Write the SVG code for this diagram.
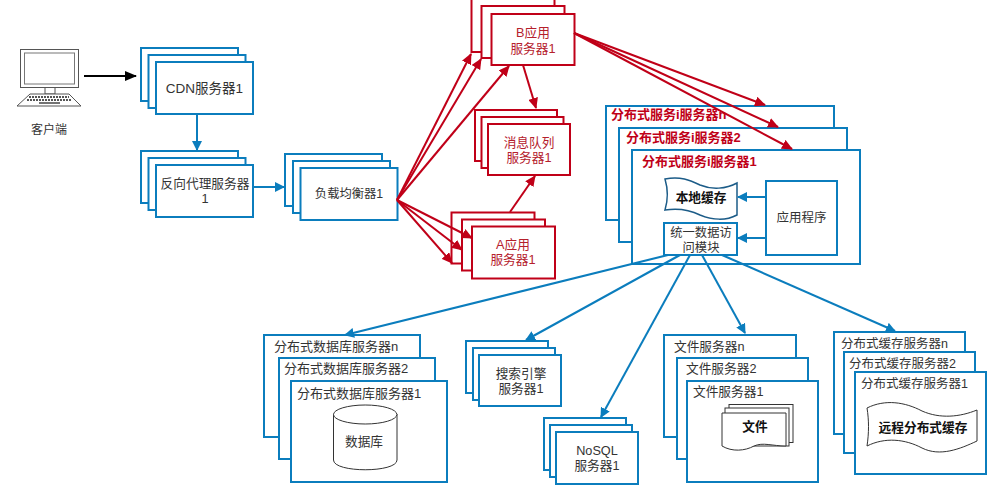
<svg xmlns="http://www.w3.org/2000/svg" width="1007" height="496" viewBox="0 0 1007 496">
<defs>
<marker id="ab" markerUnits="userSpaceOnUse" markerWidth="10" markerHeight="10" refX="9" refY="5" orient="auto"><path d="M0 0L10 5L0 10Z" fill="#0b7dbd"/></marker>
<marker id="ar" markerUnits="userSpaceOnUse" markerWidth="11" markerHeight="10" refX="10" refY="5" orient="auto"><path d="M0 0L11 5L0 10Z" fill="#c00018"/></marker>
<marker id="ak" markerUnits="userSpaceOnUse" markerWidth="12" markerHeight="10" refX="11" refY="5" orient="auto"><path d="M0 0L12 5L0 10Z" fill="#000"/></marker>
</defs>
<style>
text{font-family:"Liberation Sans","Noto Sans CJK SC",sans-serif;font-size:12.700px;fill:#333;text-anchor:middle}
.b{fill:#fff;stroke:#0b7dbd;stroke-width:2}
.r{fill:#fff;stroke:#c00018;stroke-width:2}
.rt{fill:#b5202c}
.rh{fill:#c00018;font-weight:700;font-size:13px;text-anchor:start}
.l{text-anchor:start}
.k{fill:#111;font-weight:700}
.sh{fill:#fff;stroke:#333;stroke-width:1}
.wv{fill:#fff;stroke:#1c5c88;stroke-width:1.500}
.cb{fill:none;stroke:#0b7dbd;stroke-width:2;marker-end:url(#ab)}
.cr{fill:none;stroke:#c00018;stroke-width:2;marker-end:url(#ar)}
</style>
<rect width="1007" height="496" fill="#fff"/>

<g id="client">
<rect x="20.500" y="49.500" width="58" height="38" fill="#fff" stroke="#555"/>
<rect x="24.500" y="53" width="50" height="31" fill="#fff" stroke="#777"/>
<path d="M45 88V94H55V88" fill="none" stroke="#555"/>
<path d="M17 106L30 94H69L81 106Z" fill="#fff" stroke="#555"/>
<path d="M29 97H69M27 100H72" stroke="#555" stroke-width="2" stroke-dasharray="2 1" fill="none"/>
<path d="M39 103H60" stroke="#444" stroke-width="1.500"/>
<text x="49" y="134" style="font-size:12px">客户端</text>
</g>

<g id="cdn">
<rect class="b" x="141" y="48" width="97" height="53"/><rect class="b" x="148.500" y="55" width="97" height="53"/><rect class="b" x="156" y="62" width="97" height="52"/>
<text x="204.500" y="93" style="font-size:13.500px">CDN服务器1</text>
</g>
<g id="proxy">
<rect class="b" x="141" y="151" width="97" height="52"/><rect class="b" x="148.500" y="158" width="97" height="52"/><rect class="b" x="156" y="165" width="97" height="52"/>
<text x="205" y="188"><tspan x="205">反向代理服务器</tspan><tspan x="205" dy="15">1</tspan></text>
</g>
<g id="lb">
<rect class="b" x="285" y="154" width="97" height="52"/><rect class="b" x="293" y="161" width="97" height="52"/><rect class="b" x="300.500" y="168" width="97" height="52"/>
<text x="349" y="198" style="font-size:12.300px">负载均衡器1</text>
</g>

<g id="app-b">
<rect class="r" x="471.500" y="-4" width="83" height="56"/><rect class="r" x="481.500" y="6" width="83" height="52"/><rect class="r" x="491.500" y="14" width="83" height="51"/>
<text class="rt" y="37"><tspan x="533">B应用</tspan><tspan x="533" dy="16">服务器1</tspan></text>
</g>
<g id="mq">
<rect class="r" x="475" y="110" width="82" height="51"/><rect class="r" x="481.500" y="117" width="82" height="51"/><rect class="r" x="488" y="124" width="82" height="51"/>
<text class="rt" y="147"><tspan x="529">消息队列</tspan><tspan x="529" dy="15">服务器1</tspan></text>
</g>
<g id="app-a">
<rect class="r" x="451.500" y="212.500" width="83" height="51"/><rect class="r" x="462" y="219.500" width="83" height="51"/><rect class="r" x="472" y="226.500" width="83" height="52"/>
<text class="rt" y="249"><tspan x="513">A应用</tspan><tspan x="513" dy="15">服务器1</tspan></text>
</g>

<g id="service">
<rect class="b" x="606" y="106" width="228" height="114"/>
<text class="rh" x="611" y="119">分布式服务i服务器n</text>
<rect class="b" x="619" y="128" width="228" height="114"/>
<text class="rh" x="626" y="142">分布式服务i服务器2</text>
<rect class="b" x="632" y="150" width="228" height="114"/>
<text class="rh" x="642" y="166">分布式服务i服务器1</text>
<path class="wv" d="M665 179C680 176 690 180 700 185C712 190 726 189 737 183V215C726 221 712 220 700 215C690 210 678 208 665 210C668 200 668 189 665 179Z"/>
<text class="k" x="701" y="202">本地缓存</text>
<rect class="b" x="766" y="181" width="71" height="74"/>
<text x="801.500" y="222" style="font-size:12.500px">应用程序</text>
<rect class="b" x="664" y="223" width="73" height="32"/>
<text y="237" style="font-size:12.300px"><tspan x="701">统一数据访</tspan><tspan x="701" dy="15">问模块</tspan></text>
</g>

<g id="db">
<rect class="b" x="264" y="335" width="156" height="102"/>
<text class="l" x="274" y="351" style="font-size:13px">分布式数据库服务器n</text>
<rect class="b" x="279" y="358" width="156" height="101"/>
<text class="l" x="284" y="373" style="font-size:13px">分布式数据库服务器2</text>
<rect class="b" x="291" y="381" width="156" height="101"/>
<text class="l" x="297" y="398" style="font-size:13px">分布式数据库服务器1</text>
<path class="sh" d="M333.500 414V460C333.500 473 397 473 397 460V414"/>
<ellipse class="sh" cx="365.200" cy="414.500" rx="31.700" ry="9.500"/>
<text x="364" y="446">数据库</text>
</g>
<g id="search">
<rect class="b" x="466" y="341" width="82" height="52"/><rect class="b" x="473" y="348" width="82" height="52"/><rect class="b" x="479" y="355" width="82" height="51"/>
<text y="378"><tspan x="521">搜索引擎</tspan><tspan x="521" dy="15">服务器1</tspan></text>
</g>
<g id="nosql">
<rect class="b" x="544" y="418" width="82" height="52"/><rect class="b" x="550" y="425" width="82" height="52"/><rect class="b" x="556" y="432" width="82" height="52"/>
<text y="455"><tspan x="597">NoSQL</tspan><tspan x="597" dy="15">服务器1</tspan></text>
</g>
<g id="files">
<rect class="b" x="664" y="335" width="132" height="102"/>
<text class="l" x="674" y="351">文件服务器n</text>
<rect class="b" x="677" y="358" width="131" height="101"/>
<text class="l" x="686" y="373">文件服务器2</text>
<rect class="b" x="687" y="381" width="131" height="101"/>
<text class="l" x="693" y="396">文件服务器1</text>
<rect class="sh" x="729" y="404.500" width="64" height="38"/>
<rect class="sh" x="725" y="408" width="64" height="38"/>
<path class="sh" d="M722 413H786V446C772 446 763 442 754 446C745 451 732 452 722 446Z"/>
<text class="k" x="755" y="431">文件</text>
</g>
<g id="cache">
<rect class="b" x="834" y="332" width="131" height="102"/>
<text class="l" x="841" y="348" style="font-size:12.500px">分布式缓存服务器n</text>
<rect class="b" x="844" y="352" width="131" height="101"/>
<text class="l" x="849" y="368" style="font-size:12.500px">分布式缓存服务器2</text>
<rect class="b" x="855" y="372" width="131" height="102"/>
<text class="l" x="861" y="388" style="font-size:12.500px">分布式缓存服务器1</text>
<path class="sh" d="M867 408C885 399 905 402 922 411C940 419 960 417 977 410V441C960 449 940 457 922 448C905 439 885 437 867 446C869 433 869 420 867 408Z"/>
<text class="k" x="923" y="432">远程分布式缓存</text>
</g>

<g id="connectors">
<path d="M84 76H136" fill="none" stroke="#000" stroke-width="2" marker-end="url(#ak)"/>
<path class="cb" d="M197 114V150"/>
<path class="cb" d="M253 187H284"/>
<path class="cr" d="M397 200L471 54"/>
<path class="cr" d="M397 200L481 59"/>
<path class="cr" d="M397 200L509 66"/>
<path class="cr" d="M397 200L472 238"/>
<path class="cr" d="M397 200L462 250"/>
<path class="cr" d="M397 200L452 263"/>
<path class="cr" d="M523 65L536 108"/>
<path class="cr" d="M510 212L535 176"/>
<path class="cr" d="M574 33L765 105"/>
<path class="cr" d="M574 33L778 127"/>
<path class="cr" d="M574 33L792 149"/>
<path class="cb" d="M766 197H738"/>
<path class="cb" d="M766 238H738"/>
<path class="cb" d="M668 255L345 335"/>
<path class="cb" d="M680 255L526 340"/>
<path class="cb" d="M690 255L601 417"/>
<path class="cb" d="M702 255L745 333"/>
<path class="cb" d="M722 255L895 331"/>
</g>
</svg>
